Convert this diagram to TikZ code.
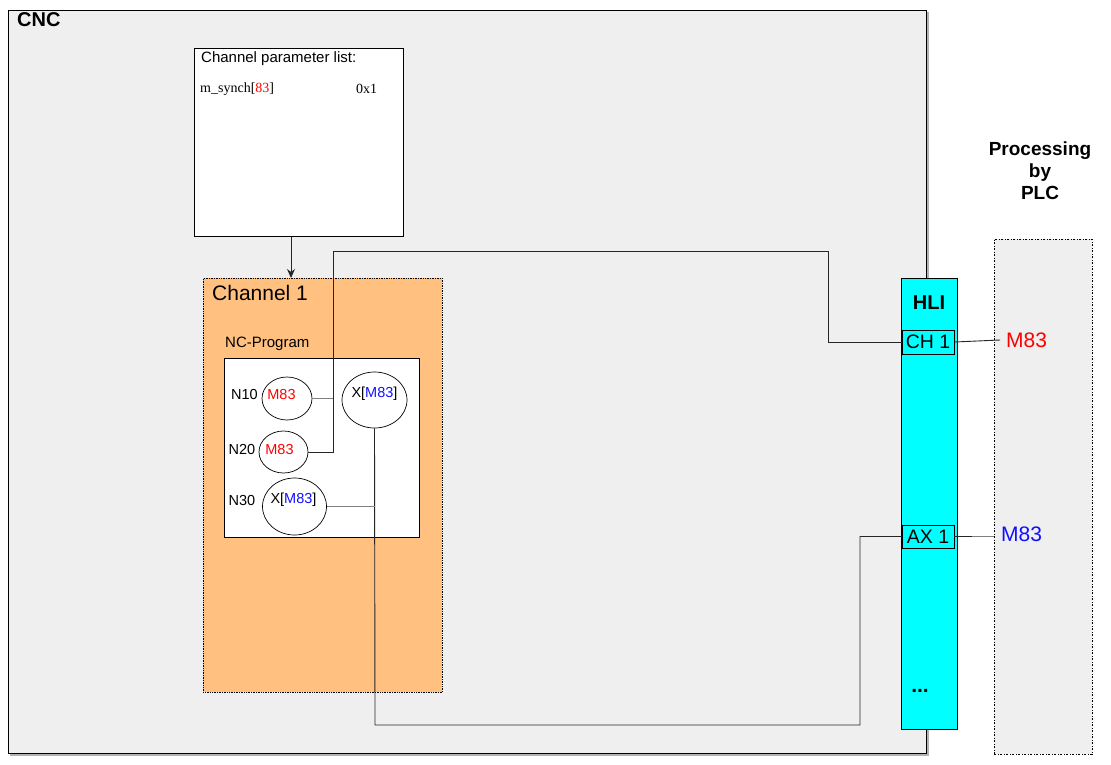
\documentclass[tikz,border=0pt]{standalone}
\usepackage{fontspec}
\setmainfont{Liberation Sans}
\newfontfamily\serifface{Liberation Serif}
\usetikzlibrary{shapes.geometric,arrows.meta}
\definecolor{bggray}{HTML}{EFEFEF}
\definecolor{chorange}{HTML}{FFC080}
\definecolor{hlicyan}{HTML}{00FFFF}
\definecolor{mred}{HTML}{FF0000}
\definecolor{mblue}{HTML}{1010FF}
\begin{document}
\begin{tikzpicture}[x=1pt,y=-1pt,
  rbox/.style={draw=black, line width=0.8pt, anchor=north west, inner sep=0pt},
  ell/.style={draw=black, line width=0.7pt, ellipse, inner sep=0pt},
  lbl/.style={inner sep=0pt, font=\fontsize{14.5}{16}\selectfont},
  conn/.style={draw=black!85, line width=0.9pt},
  gconn/.style={draw=black!50, line width=1.2pt}
]
\useasboundingbox (0,0) rectangle (1111,764);
\fill[white] (0,0) rectangle (1111,764);
% CNC box with shadow
\fill[black!30] (10,12) rectangle (929,756);
\node[rbox, fill=bggray, minimum width=918pt, minimum height=743pt] (cnc) at (8,10) {};
\node[inner sep=0pt, anchor=west, font=\fontsize{20}{22}\selectfont\bfseries] (cnct) at (17,20) {CNC};
% parameter list
\node[rbox, fill=white, minimum width=209pt, minimum height=188pt] (plist) at (194,48) {};
\node[inner sep=0pt, anchor=west, font=\fontsize{15}{17}\selectfont] (plistt) at (201,59) {Channel parameter list:};
\node[inner sep=0pt, anchor=west, font=\serifface\fontsize{14}{16}\selectfont] (synch) at (200,89) {m\_synch[\textcolor{mred}{83}]};
\node[inner sep=0pt, anchor=west, font=\serifface\fontsize{14}{16}\selectfont] (val) at (356,89) {0x1};
% Channel 1
\node[anchor=north west, inner sep=0pt, fill=chorange, draw=black, line width=0.7pt, densely dotted, minimum width=239pt, minimum height=414pt] (ch) at (203,278) {};
\node[inner sep=0pt, anchor=west, font=\fontsize{21}{24}\selectfont] (cht) at (212,292.5) {Channel 1};
\node[inner sep=0pt, anchor=west, font=\fontsize{15}{17}\selectfont] (ncpt) at (225,344) {NC-Program};
\node[rbox, fill=white, minimum width=195pt, minimum height=179pt] (ncp) at (224,358) {};
% arrow
\draw[conn, -{Stealth[length=9pt,width=8pt]}] (plist.south -| 291,0) -- (ch.north -| 291,0);
% ellipses
\node[ell, minimum width=50pt, minimum height=43pt] (e10) at (287,398.5) {};
\node[ell, minimum width=49pt, minimum height=42pt] (e20) at (283.5,452) {};
\node[ell, minimum width=65pt, minimum height=56pt] (ex) at (374.5,400) {};
\node[ell, minimum width=64pt, minimum height=57pt] (e30) at (294.5,506.5) {};
\node[lbl] (n10) at (244.5,394) {N10};
\node[lbl] (n20) at (242,449) {N20};
\node[lbl] (n30) at (242,500) {N30};
\node[lbl, text=mred] (m10) at (281.5,394) {M83};
\node[lbl, text=mred] (m20) at (279.5,449) {M83};
\node[lbl] (mx) at (374.5,394) {X[\textcolor{mblue}{M83}]};
\node[lbl] (mx30) at (293.5,500) {X[\textcolor{mblue}{M83}]};
% PLC
\node[anchor=north west, inner sep=0pt, fill=bggray, draw=black, line width=0.8pt, dash pattern=on 2pt off 1.5pt on 1pt off 1.5pt, minimum width=98pt, minimum height=515pt] (plc) at (994,239) {};
\node[inner sep=0pt, align=center, font=\fontsize{19}{22}\selectfont\bfseries] (plct) at (1040,171) {Processing\\by\\PLC};
% HLI
\node[rbox, fill=hlicyan, minimum width=56pt, minimum height=451pt] (hli) at (901,277.5) {};
\node[inner sep=0pt, font=\fontsize{20}{22}\selectfont\bfseries] (hlit) at (929,302.5) {HLI};
\node[draw=black, line width=0.8pt, inner sep=0pt, minimum width=52pt, minimum height=24pt, font=\fontsize{19.5}{22}\selectfont] (ch1) at (928,342) {CH 1};
\node[draw=black, line width=0.8pt, inner sep=0pt, minimum width=52pt, minimum height=23pt, font=\fontsize{19.5}{22}\selectfont] (ax1) at (928,536.5) {AX 1};
\node[inner sep=0pt, anchor=base, font=\fontsize{21}{22}\selectfont\bfseries] (dots) at (920,692.5) {...};
\node[inner sep=0pt, anchor=west, text=mred, font=\fontsize{21}{24}\selectfont] (mr) at (1006,340) {M83};
\node[inner sep=0pt, anchor=west, text=mblue, font=\fontsize{21}{24}\selectfont] (mb) at (1001,534) {M83};
% connectors
\coordinate (a1) at (333,251);
\coordinate (a3) at (828,342);
\coordinate (b1) at (375,725);
\coordinate (b2) at (860,725);
\draw[conn] (e20.east) -| (a1) -| (a3) -- (ch1.west);
\draw[gconn] (e10.east) -- (e10.east -| a1);
\draw[conn] (ex.south) -- (b1) -- (b2) |- (ax1.west);
\draw[gconn] (e30.east) -- (e30.east -| ex.south);
\draw[conn] (ch1.east) -- ([xshift=-6pt]mr.west);
\draw[conn] (ax1.east) -- ++(18,0) coordinate (c1);
\draw[gconn] (c1) -- ([xshift=-7pt]mb.west |- ax1.east);
\end{tikzpicture}
\end{document}
